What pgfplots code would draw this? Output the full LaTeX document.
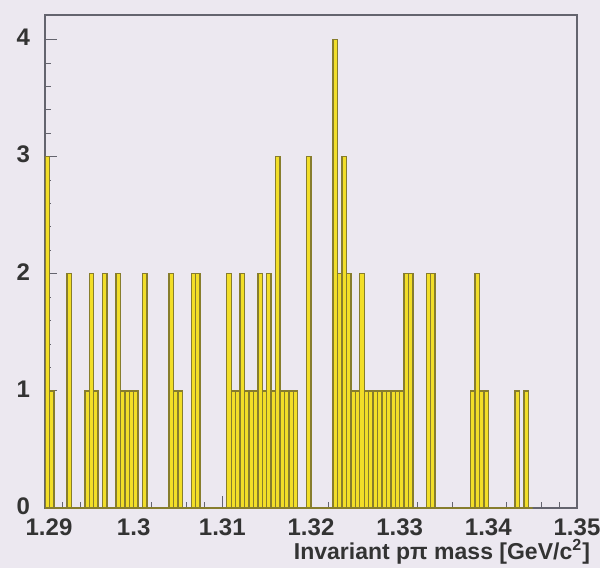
\documentclass[border=0pt]{standalone}
\usepackage{fontspec}
\setmainfont{Liberation Sans}
\usepackage{pgfplots}
\pgfplotsset{compat=1.18}
\definecolor{bgcol}{RGB}{236,232,240}
\definecolor{histfill}{RGB}{242,222,40}
\definecolor{histline}{RGB}{135,125,45}
\definecolor{axcol}{RGB}{100,100,110}
\begin{document}
\begin{tikzpicture}
\useasboundingbox (-22.5pt,-30pt) rectangle (277.5pt,254pt);
\fill[bgcol] (-22.5pt,-30pt) rectangle (277.5pt,254pt);
\begin{axis}[
  scale only axis, width=266pt, height=246.5pt,
  xmin=1.29, xmax=1.35, ymin=0, ymax=4.21,
  xtick={1.29,1.3,1.31,1.32,1.33,1.34,1.35},
  xticklabels={\hspace*{4pt}1.29,1.3,1.31,1.32,1.33,1.34,1.35},
  ytick={0,1,2,3,4},
  minor x tick num=4, minor y tick num=4,
  tick pos=left, tick align=inside,
  major tick length=6pt, minor tick length=3pt,
  axis line style={axcol, line width=0.6pt},
  every tick/.style={axcol, line width=0.5pt},
  /pgf/number format/assume math mode=true,
  ticklabel style={font=\fontsize{12}{14}\selectfont\bfseries, text=black!80},
  yticklabel style={xshift=-4pt, yshift=1pt},
  xticklabel style={yshift=-2pt},
  xlabel={Invariant pπ mass [GeV/c\textsuperscript{2}]},
  xlabel style={at={(axis description cs:1,0)}, anchor=east, xshift=10pt, yshift=-22pt,
    font=\fontsize{11.5}{13}\selectfont\bfseries, text=black!80},
]
\addplot[ybar interval, fill=histfill, draw=histline, line width=0.7pt] coordinates {
(1.2900,3) (1.2905,1) (1.2910,0) (1.2915,0) (1.2920,0) (1.2925,2) (1.2930,0) (1.2935,0) (1.2940,0) (1.2945,1)
(1.2950,2) (1.2955,1) (1.2960,0) (1.2965,2) (1.2970,0) (1.2975,0) (1.2980,2) (1.2985,1) (1.2990,1) (1.2995,1)
(1.3000,1) (1.3005,0) (1.3010,2) (1.3015,0) (1.3020,0) (1.3025,0) (1.3030,0) (1.3035,0) (1.3040,2) (1.3045,1)
(1.3050,1) (1.3055,0) (1.3060,0) (1.3065,2) (1.3070,2) (1.3075,0) (1.3080,0) (1.3085,0) (1.3090,0) (1.3095,0)
(1.3100,0) (1.3105,2) (1.3110,1) (1.3115,1) (1.3120,2) (1.3125,1) (1.3130,1) (1.3135,1) (1.3140,2) (1.3145,1)
(1.3150,2) (1.3155,1) (1.3160,3) (1.3165,1) (1.3170,1) (1.3175,1) (1.3180,1) (1.3185,0) (1.3190,0) (1.3195,3)
(1.3200,0) (1.3205,0) (1.3210,0) (1.3215,0) (1.3220,0) (1.3225,4) (1.3230,2) (1.3235,3) (1.3240,2) (1.3245,1)
(1.3250,1) (1.3255,2) (1.3260,1) (1.3265,1) (1.3270,1) (1.3275,1) (1.3280,1) (1.3285,1) (1.3290,1) (1.3295,1)
(1.3300,1) (1.3305,2) (1.3310,2) (1.3315,0) (1.3320,0) (1.3325,0) (1.3330,2) (1.3335,2) (1.3340,0) (1.3345,0)
(1.3350,0) (1.3355,0) (1.3360,0) (1.3365,0) (1.3370,0) (1.3375,0) (1.3380,1) (1.3385,2) (1.3390,1) (1.3395,1)
(1.3400,0) (1.3405,0) (1.3410,0) (1.3415,0) (1.3420,0) (1.3425,0) (1.3430,1) (1.3435,0) (1.3440,1) (1.3445,0)
(1.3450,0)
};
\end{axis}
\end{tikzpicture}
\end{document}
